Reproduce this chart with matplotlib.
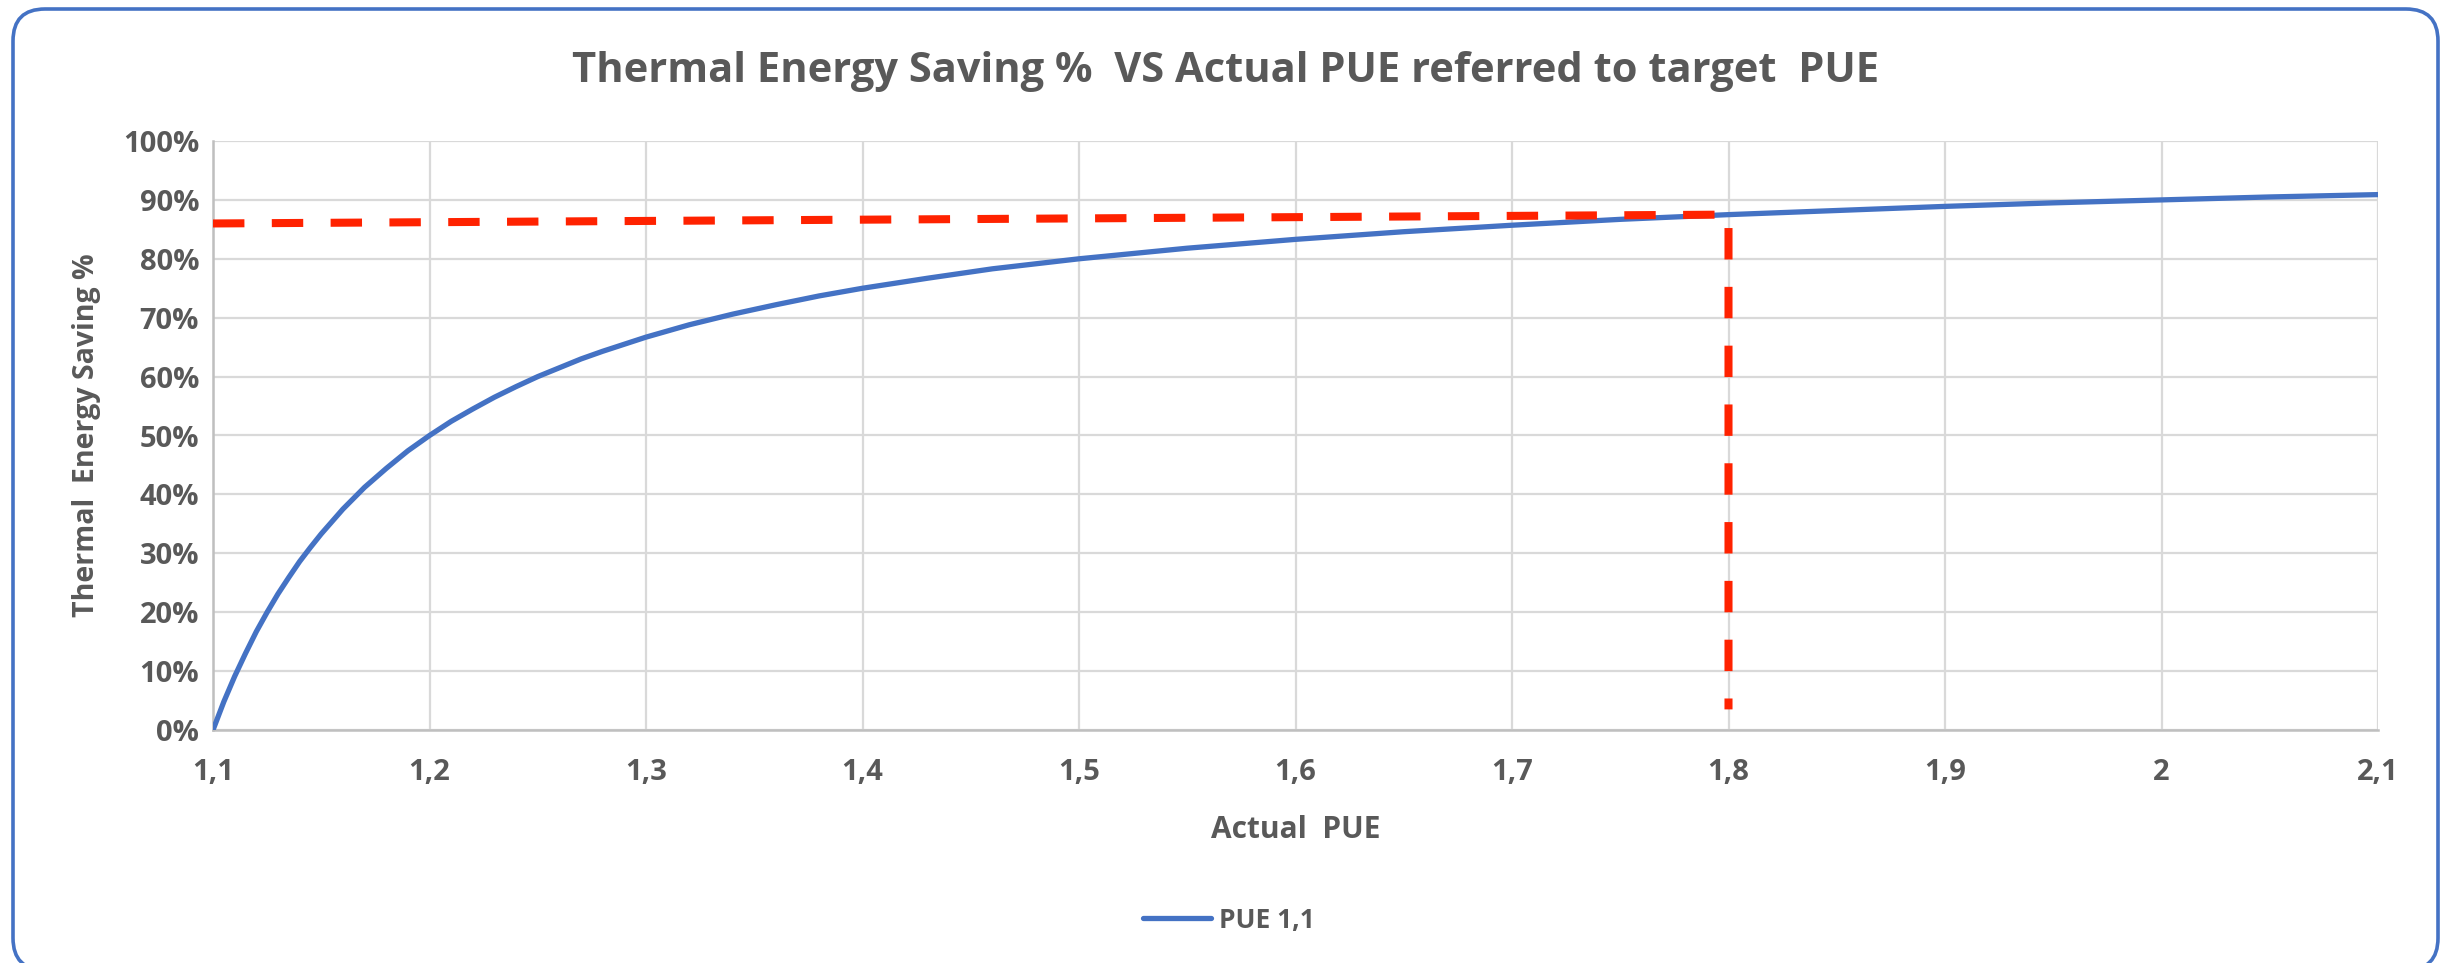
import matplotlib.pyplot as plt
from matplotlib.patches import FancyBboxPatch
from matplotlib.ticker import FuncFormatter

plt.rcParams['font.family'] = ['Open Sans', 'DejaVu Sans']
plt.rcParams['font.weight'] = 'bold'
grey_txt = '#595959'

# data
pue = [1.10, 1.105, 1.11, 1.115, 1.12, 1.125, 1.13, 1.135, 1.14, 1.145, 1.15, 1.16, 1.17,
       1.18, 1.19, 1.20, 1.21, 1.22, 1.23, 1.24, 1.25, 1.26, 1.27, 1.28, 1.30, 1.32,
       1.34, 1.36, 1.38, 1.40, 1.43, 1.46, 1.50, 1.55, 1.60, 1.65, 1.70,
       1.75, 1.80, 1.85, 1.90, 1.95, 2.00, 2.05, 2.10]
saving = [0.0, 4.8, 9.1, 13.0, 16.7, 20.0, 23.1, 25.9, 28.6, 31.0, 33.3, 37.5, 41.2,
          44.4, 47.4, 50.0, 52.4, 54.5, 56.5, 58.3, 60.0, 61.5, 63.0, 64.3, 66.7, 68.8,
          70.6, 72.2, 73.7, 75.0, 76.7, 78.3, 80.0, 81.8, 83.3, 84.6, 85.7,
          86.7, 87.5, 88.2, 88.9, 89.5, 90.0, 90.5, 90.9]
ref_x = [1.10, 1.80, 1.80]
ref_y = [86.0, 87.5, 3.5]
xticks = [1.1, 1.2, 1.3, 1.4, 1.5, 1.6, 1.7, 1.8, 1.9, 2.0, 2.1]
xtick_labels = ['1,1', '1,2', '1,3', '1,4', '1,5', '1,6', '1,7', '1,8', '1,9', '2', '2,1']
yticks = list(range(0, 101, 10))

fig = plt.figure(figsize=(24.52, 9.63), dpi=100)
ax = fig.add_axes([213/2452, 1-730/963, (2378-213)/2452, (730-141)/963])

# rounded frame round the chart (inches, bottom edge runs off the picture)
frame = FancyBboxPatch((0.13, -0.07), 24.25, 9.61,
                       boxstyle='round,pad=0,rounding_size=0.32',
                       transform=fig.dpi_scale_trans, facecolor='none',
                       edgecolor='#4472c4', linewidth=2.6, clip_on=False)
fig.patches.append(frame)

ax.plot(pue, saving, color='#4472c4', linewidth=3.8, label='PUE 1,1',
        solid_capstyle='round', zorder=3)
ax.plot(ref_x, ref_y, color='#ff2200', linewidth=5.8, dashes=(3.9, 3.4),
        dash_capstyle='butt', zorder=4)

ax.set_xlim(1.1, 2.1)
ax.set_ylim(0, 100)
ax.set_xticks(xticks)
ax.set_xticklabels(xtick_labels)
ax.set_yticks(yticks)
ax.yaxis.set_major_formatter(FuncFormatter(lambda v, p: f'{int(v)}%'))
ax.grid(True, color='#d9d9d9', linewidth=1.6)
ax.set_axisbelow(True)
for side in ['top', 'right']:
    ax.spines[side].set_visible(False)
for side in ['left', 'bottom']:
    ax.spines[side].set_color('#bfbfbf')
    ax.spines[side].set_linewidth(1.8)
ax.tick_params(length=0, labelsize=21, labelcolor=grey_txt)
ax.tick_params(axis='x', pad=20)
ax.tick_params(axis='y', pad=10)

ax.set_xlabel('Actual  PUE', fontsize=21.5, color=grey_txt, fontweight='bold', labelpad=20)
ax.set_ylabel('Thermal  Energy Saving %', fontsize=20.5, color=grey_txt, fontweight='bold', labelpad=16)

fig.text(0.5, 1-72/963, 'Thermal Energy Saving %  VS Actual PUE referred to target  PUE',
         ha='center', va='center', fontsize=30, color=grey_txt, fontweight='bold')

leg = ax.legend(loc='center', bbox_to_anchor=(1229/2452, 1-920/963),
                bbox_transform=fig.transFigure, frameon=False, fontsize=19,
                handlelength=2.6, handletextpad=0.3)
for t in leg.get_texts():
    t.set_color(grey_txt)

fig.savefig('out.png', dpi=100)
